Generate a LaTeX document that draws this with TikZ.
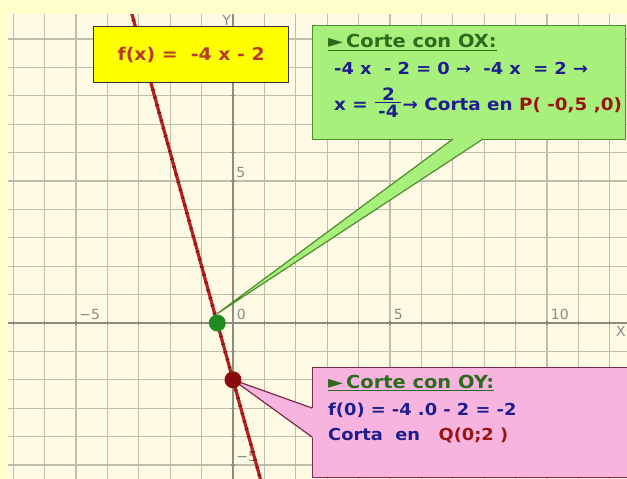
\documentclass[tikz,border=0pt]{standalone}
\usepackage{fontspec}
\usepackage{amsmath}
\setmainfont[FakeStretch=1.08]{DejaVu Sans}
\newfontfamily\axisfont{DejaVu Sans}
\usetikzlibrary{calc,decorations.markings}
\definecolor{outerbg}{HTML}{FFFFCC}
\definecolor{gridbg}{HTML}{FFFAE3}
\definecolor{gridcol}{HTML}{C0BEAC}
\definecolor{axiscol}{HTML}{8E8C80}
\definecolor{labelcol}{HTML}{8A8A8A}
\definecolor{linered}{HTML}{B51F1F}
\definecolor{linedark}{HTML}{6A0A0A}
\definecolor{yellowbox}{HTML}{FFFF00}
\definecolor{titlered}{HTML}{B83A28}
\definecolor{greenfill}{HTML}{A8F07C}
\definecolor{greenborder}{HTML}{4E8C2E}
\definecolor{headgreen}{HTML}{2E6A1E}
\definecolor{navy}{HTML}{1E1E8E}
\definecolor{darkred}{HTML}{9A1414}
\definecolor{pinkfill}{HTML}{F7B4DF}
\definecolor{pinkborder}{HTML}{7A2A4A}
\definecolor{gdotcol}{HTML}{1E8C1E}
\definecolor{rdotcol}{HTML}{8A0A0A}
\tikzset{
  gridline/.style={gridcol, line width=1.1},
  axisline/.style={axiscol, line width=1.2},
  ticklabel/.style={font=\axisfont\fontsize{14}{16}\selectfont, text=labelcol, inner sep=0pt},
  fline/.style={linered, line width=3.2, postaction={decorate},
    decoration={markings, mark=between positions 0 and 1 step 8pt with {\draw[linedark, line width=0.8] (0pt,-2pt) -- (0pt,2pt);}}},
  ybox/.style={draw=black!80, line width=1.3, fill=yellowbox, anchor=north west, inner sep=0pt},
  gbox/.style={draw=greenborder, line width=1.3, fill=greenfill, anchor=north west, inner sep=0pt},
  pbox/.style={draw=pinkborder, line width=1.3, fill=pinkfill, anchor=north west, inner sep=0pt},
  titletext/.style={font=\bfseries\fontsize{17.5}{20}\selectfont, text=titlered, inner sep=0pt},
  headtext/.style={font=\bfseries\fontsize{18}{20}\selectfont, text=headgreen, anchor=base west, inner sep=0pt},
  bodytext/.style={font=\bfseries\fontsize{16.5}{19}\selectfont, text=navy, anchor=base west, inner sep=0pt},
  dotnode/.style={circle, minimum size=17, inner sep=0pt},
}
\begin{document}
\begin{tikzpicture}[x=1pt,y=-1pt]
\useasboundingbox (0,0) rectangle (627,479);
\fill[outerbg] (0,0) rectangle (627,479);
\begin{scope}
\clip (8,14) rectangle (627,479);
\fill[gridbg] (8,14) rectangle (627,479);
\begin{scope}[shift={(233,323)}, x=31.4pt, y=28.4pt]
  \foreach \i in {-7,...,13} \draw[gridline] (\i,-6) -- (\i,11);
  \foreach \j in {-6,...,11} \draw[gridline] (-8,\j) -- (13,\j);
  \draw[axisline] (-8,0) -- (13,0);
  \draw[axisline] (0,-6) -- (0,11);
  \foreach \i in {-7,...,13} \draw[axisline] (\i,-0.07) -- (\i,0.07);
  \foreach \j in {-6,...,11} \draw[axisline] (-0.07,\j) -- (0.07,\j);
  \node[ticklabel, anchor=south west] (lxm5) at (-4.9,0.12) {−5};
  \node[ticklabel, anchor=south west] (lx0) at (0.12,0.12) {0};
  \node[ticklabel, anchor=south west] (lx5) at (5.12,0.12) {5};
  \node[ticklabel, anchor=south west] (lx10) at (10.12,0.12) {10};
  \node[ticklabel, anchor=west] (ly5) at (0.1,5.3) {5};
  \node[ticklabel, anchor=west] (lym5) at (0.1,-4.7) {−5};
  \node[ticklabel, anchor=north] (lY) at (-0.2,10.85) {Y};
  \coordinate (Pc) at (-0.5,0);
  \coordinate (Qc) at (0,-2);
  \coordinate (gtip) at (-0.5,0.33);
  \draw[fline] (-3.3,11.2) -- (0.95,-5.8);
\end{scope}
\end{scope}
\node[ticklabel, anchor=east] (lX) at (626,331) {X};
% yellow title box
\node[ybox, minimum width=195, minimum height=56] (tbox) at (93,26) {};
\node[titletext] (title) at (tbox.center) {f(x) =\ \ -4 x - 2};
% green callout
\node[gbox, minimum width=313, minimum height=114] (gbox) at (312,25) {};
\coordinate (gA) at (453,139);
\coordinate (gB) at (483,139);
\fill[greenfill] (455.7,136.6) -- (gtip) -- (486,136.6) -- cycle;
\draw[greenborder, line width=1.2] (gA) -- (gtip) -- (gB);
\node[headtext] (gh) at (328,47.5) {\underline{►\,Corte con OX:}};
\node[bodytext] (g1) at (334,74) {-4 x\ \ - 2 = 0 →\ \ -4 x\ \ = 2 →};
\node[bodytext, font=\bfseries\fontsize{17}{19}\selectfont] (g2) at (334,110) {x = \raisebox{3pt}{$\genfrac{}{}{1.3pt}{}{\hbox{2}}{\hbox{\,-4\,}}$}→ Corta en \textcolor{darkred}{P( -0,5 ,0)}};
% pink callout
\node[pbox, minimum width=330, minimum height=110] (pbox) at (312,367) {};
\coordinate (pA) at (312,408);
\coordinate (pB) at (312,437);
\fill[pinkfill] (314.5,408.9) -- (Qc) -- (314.5,438.8) -- cycle;
\draw[pinkborder, line width=1.2] (pA) -- (Qc) -- (pB);
\node[headtext] (ph) at (328,388) {\underline{►\,Corte con OY:}};
\node[bodytext] (p1) at (328,415) {f(0) =\ -4 .0 - 2 = -2};
\node[bodytext] (p2) at (328,440) {Corta\ \ en\ \ \ \textcolor{darkred}{Q(0;2 )}};
% dots
\node[dotnode, fill=gdotcol] (P) at (Pc) {};
\node[dotnode, fill=rdotcol] (Q) at (Qc) {};
\end{tikzpicture}
\end{document}
